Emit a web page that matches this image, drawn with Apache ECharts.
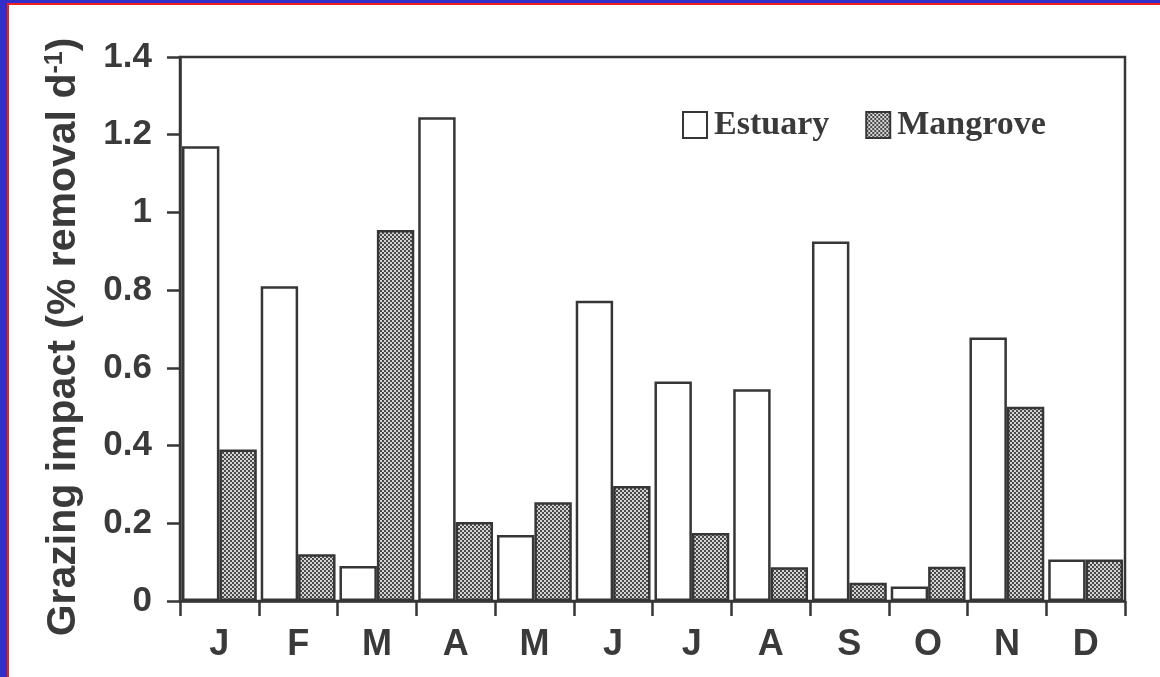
<!DOCTYPE html>
<html>
<head>
<meta charset="utf-8">
<script src="https://cdn.jsdelivr.net/npm/echarts@6/dist/echarts.min.js"></script>
<style>
  html, body { margin: 0; padding: 0; background: #fff; }
  #chart { position: absolute; left: 0; top: 0; width: 1160px; height: 677px; }
  /* scan frame: blue edge with a thin red line inside */
  .frame-blue-l { position: absolute; left: 0; top: 0; width: 7px; height: 677px; background: #3030c8; }
  .frame-blue-t { position: absolute; left: 0; top: 0; width: 1160px; height: 3px; background: #3030c8; }
  .frame-red-l { position: absolute; left: 7px; top: 3px; width: 2px; height: 674px; background: #f02020; }
  .frame-red-t { position: absolute; left: 7px; top: 3px; width: 1153px; height: 2px; background: #f02020; }
</style>
</head>
<body>
<div id="chart"></div>
<div class="frame-blue-l"></div>
<div class="frame-blue-t"></div>
<div class="frame-red-l"></div>
<div class="frame-red-t"></div>
<script>
var months = ["J", "F", "M", "A", "M", "J", "J", "A", "S", "O", "N", "D"];
var estuary = [1.17, 0.81, 0.09, 1.245, 0.17, 0.773, 0.565, 0.545, 0.925, 0.037, 0.678, 0.107];
var mangrove = [0.39, 0.12, 0.955, 0.203, 0.254, 0.296, 0.175, 0.087, 0.047, 0.088, 0.50, 0.107];
var yTicks = [0, 0.2, 0.4, 0.6, 0.8, 1, 1.2, 1.4];

// dotted screen used for the Mangrove bars
function makeScreen() {
  var c = document.createElement("canvas");
  c.width = 4;
  c.height = 4;
  var g = c.getContext("2d");
  g.fillStyle = "#4a4a4a";
  g.fillRect(0, 0, 4, 4);
  g.fillStyle = "#d4d4d4";
  g.fillRect(0, 0, 2, 2);
  g.fillRect(2, 2, 2, 2);
  return c;
}

var ink = "#363636";
var chart = echarts.init(document.getElementById("chart"));

chart.setOption({
  animation: false,
  backgroundColor: "transparent",
  grid: {
    left: 180, right: 35, top: 57, bottom: 76,
    show: true, borderColor: ink, borderWidth: 2.5, backgroundColor: "transparent"
  },
  legend: {
    left: 677, top: 103,
    itemWidth: 24, itemHeight: 26, itemGap: 36,
    icon: "rect",
    textStyle: { fontFamily: "Liberation Serif", fontWeight: "bold", fontSize: 34, color: "#3a3a3a", padding: [0, 0, 0, 2] },
    data: ["Estuary", "Mangrove"]
  },
  xAxis: {
    type: "category",
    data: months,
    axisLine: { lineStyle: { color: ink, width: 2.5 } },
    axisTick: { show: true, length: 15, lineStyle: { color: ink, width: 2.5 } },
    axisLabel: { margin: 26, fontFamily: "Liberation Sans", fontWeight: "bold", fontSize: 36, color: "#3a3a3a" }
  },
  yAxis: {
    type: "value",
    min: 0, max: 1.4, interval: 0.2,
    name: "{t|Grazing impact (% removal d}{s|-1}{t|)}",
    nameLocation: "middle",
    nameGap: 96,
    nameTextStyle: {
      padding: [0, 16, 0, 0],
      rich: {
        t: { fontFamily: "Liberation Sans", fontWeight: "bold", fontSize: 41, color: "#3a3a3a" },
        s: { fontFamily: "Liberation Sans", fontWeight: "bold", fontSize: 25, color: "#3a3a3a", verticalAlign: "top", padding: [0, 0, 15, 0] }
      }
    },
    splitLine: { show: false },
    axisLine: { show: true, lineStyle: { color: ink, width: 2.5 } },
    axisTick: { show: true, length: 13, lineStyle: { color: ink, width: 2.5 } },
    axisLabel: {
      margin: 28, fontFamily: "Liberation Sans", fontWeight: "bold", fontSize: 35, color: "#3a3a3a",
      formatter: function (v) {
        var hit = yTicks.filter(function (t) { return Math.abs(t - v) < 1e-6; });
        return hit.length ? String(hit[0]) : "";
      }
    }
  },
  series: [
    {
      name: "Estuary",
      type: "bar",
      data: estuary,
      barGap: "0%",
      barCategoryGap: "5%",
      itemStyle: { color: "#ffffff", borderColor: ink, borderWidth: 2.5 }
    },
    {
      name: "Mangrove",
      type: "bar",
      data: mangrove,
      barGap: "0%",
      barCategoryGap: "5%",
      itemStyle: { color: { image: makeScreen(), repeat: "repeat" }, borderColor: ink, borderWidth: 2.5 }
    }
  ]
});
</script>
</body>
</html>
